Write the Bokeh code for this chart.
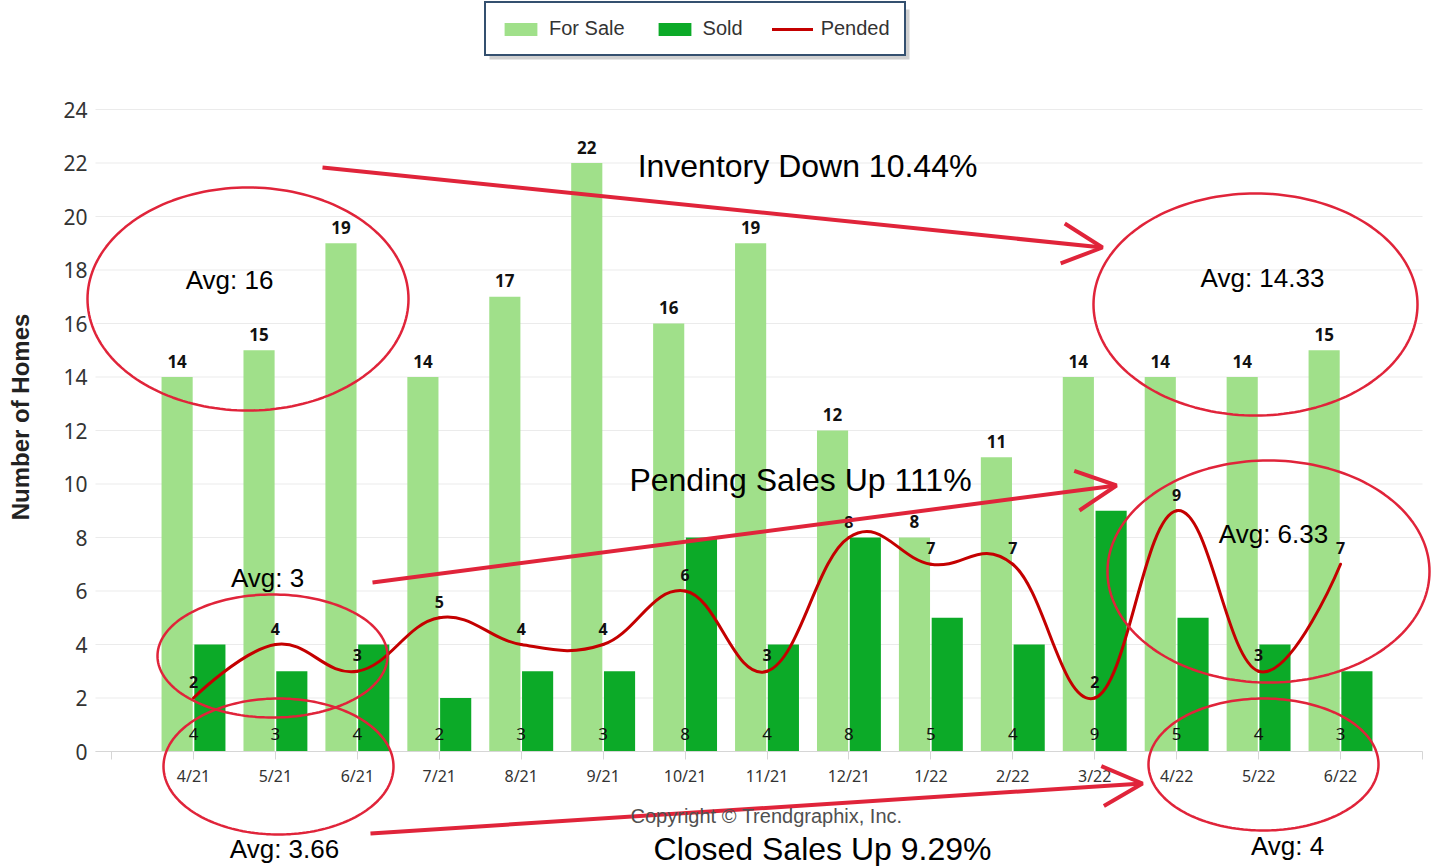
import numpy as np
from bokeh.plotting import figure
from bokeh.models import (FixedTicker, Range1d, Label, Arrow, OpenHead, PolyAnnotation,
                          LinearAxis, BoxAnnotation)
from bokeh.core.properties import value
from bokeh.embed import file_html
from bokeh.resources import INLINE

# ---------------- data ----------------
months = ["4/21", "5/21", "6/21", "7/21", "8/21", "9/21", "10/21", "11/21",
          "12/21", "1/22", "2/22", "3/22", "4/22", "5/22", "6/22"]
for_sale = [14, 15, 19, 14, 17, 22, 16, 19, 12, 8, 11, 14, 14, 14, 15]
sold = [4, 3, 4, 2, 3, 3, 8, 4, 8, 5, 4, 9, 5, 4, 3]
pended = [2, 4, 3, 5, 4, 4, 6, 3, 8, 7, 7, 2, 9, 3, 7]
y_ticks = list(range(0, 25, 2))

# ---------------- styles ----------------
LIGHT = "#a0e08a"
DARK = "#0caa28"
LINE = "#c40000"
RED = "#e0243a"
TXT = "#333333"
W, H = 1432, 866

# pixel <-> data mapping of the chart area (category pitch 81.93 px, 26.75 px per unit)
def ax(X):
    return (X - 193.0) / 81.93

def ay(Y):
    return (751.0 - Y) / 26.75

X_LEFT, X_RIGHT = ax(95), ax(1422)

idx = list(range(len(months)))

p = figure(width=W, height=H, output_backend="svg", toolbar_location=None,
           x_range=Range1d(ax(0), ax(W)), y_range=Range1d(ay(H), ay(0)),
           x_axis_location=None, y_axis_location=None,
           min_border=0, min_border_left=0, min_border_right=0,
           min_border_top=0, min_border_bottom=0)
p.outline_line_color = None
p.background_fill_color = "white"
p.border_fill_color = "white"
p.xgrid.visible = False
p.ygrid.visible = False

# horizontal grid lines across the plot area
p.segment(x0=[X_LEFT] * len(y_ticks), x1=[X_RIGHT] * len(y_ticks), y0=y_ticks, y1=y_ticks,
          line_color="#ebebeb", line_width=1)

# bars
p.vbar(x=[i - 0.2 for i in idx], top=for_sale, width=0.38,
       fill_color=LIGHT, line_color=None, legend_label="For Sale")
p.vbar(x=[i + 0.2 for i in idx], top=sold, width=0.38,
       fill_color=DARK, line_color=None, legend_label="Sold")

# spline (Highcharts-style smoothing) through the pended points
def spline_parts(xs, ys, smoothing=1.5):
    n = len(xs)
    left = [(xs[i], ys[i]) for i in range(n)]
    right = [(xs[i], ys[i]) for i in range(n)]
    d = smoothing + 1
    for i in range(1, n - 1):
        x, y = xs[i], ys[i]
        lx, ly, nx, ny = xs[i - 1], ys[i - 1], xs[i + 1], ys[i + 1]
        lcx, lcy = (smoothing * x + lx) / d, (smoothing * y + ly) / d
        rcx, rcy = (smoothing * x + nx) / d, (smoothing * y + ny) / d
        corr = (rcy - lcy) * (rcx - x) / (rcx - lcx) + y - rcy
        left[i] = (lcx, lcy + corr)
        right[i] = (rcx, rcy + corr)
    seg = dict(x0=[], y0=[], x1=[], y1=[], cx0=[], cy0=[], cx1=[], cy1=[])
    for i in range(1, n):
        seg["x0"].append(xs[i - 1]); seg["y0"].append(ys[i - 1])
        seg["x1"].append(xs[i]); seg["y1"].append(ys[i])
        seg["cx0"].append(right[i - 1][0]); seg["cy0"].append(right[i - 1][1])
        seg["cx1"].append(left[i][0]); seg["cy1"].append(left[i][1])
    return seg

seg = spline_parts(idx, pended)
p.bezier(**seg, line_color=LINE, line_width=3, line_cap="round", legend_label="Pended")

# data labels
p.text(x=[i - 0.2 for i in idx], y=for_sale, text=[str(v) for v in for_sale],
       text_font=value("Noto Sans"), text_font_style="bold", text_font_size="17px",
       text_color="#111111", text_align="center", text_baseline="middle", y_offset=-16)
p.text(x=idx, y=[0] * len(idx), text=[str(v) for v in sold],
       text_font=value("Noto Sans"), text_font_size="17px",
       text_color="#111111", text_align="center", text_baseline="middle", y_offset=-18)
p.text(x=idx, y=pended, text=[str(v) for v in pended],
       text_font=value("Noto Sans"), text_font_style="bold", text_font_size="16px",
       text_color="#111111", text_align="center", text_baseline="middle", y_offset=-16)

# axes fixed at the plot-area edges
yax = LinearAxis(fixed_location=X_LEFT, bounds=(0, 25), ticker=FixedTicker(ticks=y_ticks))
yax.axis_line_color = None
yax.major_tick_line_color = None
yax.minor_tick_line_color = None
yax.major_label_standoff = 2
yax.major_label_text_font = "Noto Sans"
yax.major_label_text_font_size = "21px"
yax.major_label_text_color = TXT
yax.axis_label = "Number of Homes"
yax.axis_label_text_font = "Liberation Sans"
yax.axis_label_text_font_style = "bold"
yax.axis_label_text_font_size = "24px"
yax.axis_label_text_color = "#222222"
yax.axis_label_standoff = 26
p.add_layout(yax, "left")

overrides = {i: m for i, m in enumerate(months)}
overrides[-1] = ""
overrides[len(months)] = ""
xax = LinearAxis(fixed_location=0, bounds=(X_LEFT, X_RIGHT),
                 ticker=FixedTicker(ticks=list(range(-1, len(months) + 1))))
xax.major_label_overrides = overrides
xax.axis_line_color = "#d6d6d6"
xax.major_tick_line_color = "#d6d6d6"
xax.major_tick_in = 0
xax.major_tick_out = 8
xax.minor_tick_line_color = None
xax.major_label_standoff = 5
xax.major_label_text_font = "Noto Sans"
xax.major_label_text_font_size = "16px"
xax.major_label_text_color = TXT
p.add_layout(xax, "below")

# legend shadow + legend
p.add_layout(BoxAnnotation(left=ax(489), right=ax(909), top=ay(9), bottom=ay(59),
                           fill_color="#8a8a8a", fill_alpha=0.4, line_color=None,
                           level="underlay"))
lg = p.legend[0]
lg.orientation = "horizontal"
lg.location = (484, 810)
lg.border_line_color = "#34506f"
lg.border_line_alpha = 1
lg.border_line_width = 2
lg.background_fill_color = "white"
lg.background_fill_alpha = 1
lg.padding = 14
lg.spacing = 29
lg.label_standoff = 8
lg.glyph_width = 41
lg.glyph_height = 16
lg.label_height = 18
lg.label_text_font = "Liberation Sans"
lg.label_text_font_size = "20px"
lg.label_text_color = TXT
lg.margin = 0

# ---------------- annotations (positions given in reference pixels) ----------------
def add_ellipse(cx, cy, rx, ry):
    t = np.linspace(0, 2 * np.pi, 181)
    xs = [ax(cx + rx * np.cos(a)) for a in t]
    ys = [ay(cy + ry * np.sin(a)) for a in t]
    p.add_layout(PolyAnnotation(xs=xs, ys=ys, fill_color=None, fill_alpha=0,
                                line_color=RED, line_alpha=1, line_width=2.5))

add_ellipse(247.5, 298.5, 160.5, 111.5)
add_ellipse(1255, 304, 162, 111)
add_ellipse(272, 655.5, 115, 61.5)
add_ellipse(278, 766, 115, 68)
add_ellipse(1268, 571, 161, 111)
add_ellipse(1263, 764, 115, 66)

def add_arrow(x0, y0, x1, y1):
    p.add_layout(Arrow(end=OpenHead(size=40, line_color=RED, line_width=4),
                       x_start=ax(x0), y_start=ay(y0), x_end=ax(x1), y_end=ay(y1),
                       line_color=RED, line_width=4))

add_arrow(322, 167, 1102, 247)
add_arrow(372, 582, 1116, 485)
add_arrow(370, 833, 1142, 783)

def add_text(X, Y, s, size, color="black", font="Liberation Sans"):
    p.add_layout(Label(x=ax(X), y=ay(Y), text=s, text_align="center",
                       text_baseline="middle", text_font=font,
                       text_font_size=size, text_color=color))

add_text(807, 165, "Inventory Down 10.44%", "32px")
add_text(800, 479, "Pending Sales Up 111%", "32px")
add_text(822, 848, "Closed Sales Up 9.29%", "32px")
add_text(229, 279, "Avg: 16", "26px")
add_text(1262, 277, "Avg: 14.33", "26px")
add_text(267, 577, "Avg: 3", "26px")
add_text(1273, 533, "Avg: 6.33", "26px")
add_text(284, 848, "Avg: 3.66", "26px")
add_text(1287, 845, "Avg: 4", "26px")
add_text(766, 815, "Copyright \u00a9 Trendgraphix, Inc.", "20px", color="#505050")

open("out.html", "w").write(file_html(p, INLINE))
